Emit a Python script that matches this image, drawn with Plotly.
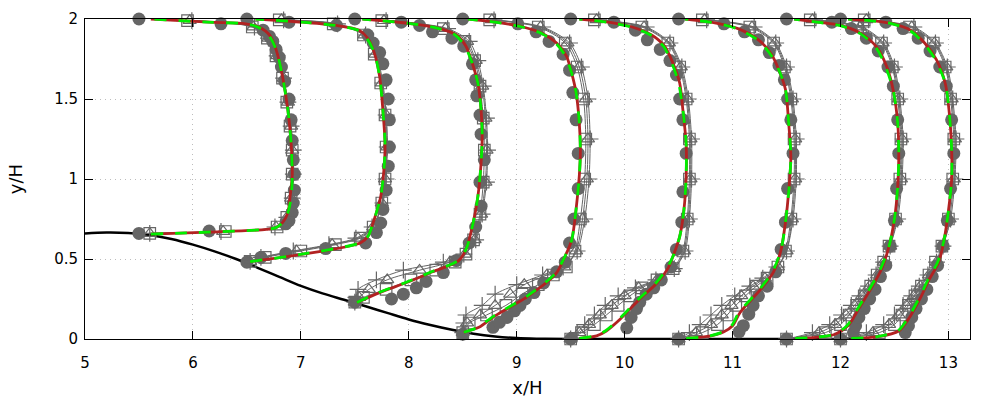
import plotly.graph_objects as go

# ---------------- data ----------------
STATIONS = [5.5, 6.5, 7.5, 8.5, 9.5, 10.5, 11.5, 12.0]

HILL_X = [5.0, 5.2, 5.4, 5.6, 5.8, 6.0, 6.2, 6.4, 6.6, 6.8, 7.0, 7.2, 7.4, 7.6, 7.8,
          8.0, 8.2, 8.4, 8.6, 8.8, 9.0, 9.2, 9.5, 12.2]
HILL_Y = [0.660, 0.666, 0.663, 0.650, 0.625, 0.590, 0.548, 0.500, 0.445, 0.388, 0.332,
          0.285, 0.245, 0.205, 0.163, 0.122, 0.088, 0.058, 0.033, 0.016, 0.006, 0.002,
          0.0, 0.0]

# LES-type profiles (red solid / green dashed), shared y grid per station
Y_LES_1 = [0.655, 0.668, 0.685, 0.696, 0.727, 0.79, 0.89, 1.02, 1.22, 1.43, 1.64, 1.81, 1.90, 1.95, 1.97, 1.98, 2.0]
U_RED_1 = [0.11, 0.65, 1.18, 1.27, 1.33, 1.38, 1.40, 1.42, 1.41, 1.38, 1.33, 1.27, 1.21, 1.11, 0.99, 0.65, 0.11]
U_GRN_1 = [0.11, 0.64, 1.17, 1.27, 1.33, 1.38, 1.41, 1.42, 1.41, 1.38, 1.33, 1.27, 1.20, 1.10, 0.98, 0.64, 0.11]

Y_LES_2 = [0.484, 0.53, 0.60, 0.64, 0.727, 0.89, 1.06, 1.22, 1.43, 1.64, 1.79, 1.88, 1.93, 1.96, 1.98, 2.0]
U_RED_2 = [0.03, 0.52, 1.05, 1.12, 1.17, 1.24, 1.27, 1.28, 1.26, 1.23, 1.18, 1.12, 1.04, 0.83, 0.52, 0.08]
U_GRN_2 = [0.03, 0.51, 1.04, 1.12, 1.17, 1.24, 1.27, 1.28, 1.26, 1.23, 1.18, 1.11, 1.03, 0.82, 0.51, 0.08]

Y_LES_3 = [0.228, 0.29, 0.353, 0.42, 0.488, 0.56, 0.706, 0.89, 1.10, 1.27, 1.43, 1.60, 1.72, 1.83, 1.90, 1.94, 1.97, 2.0]
U_RED_3 = [0.02, 0.23, 0.48, 0.72, 0.96, 1.03, 1.09, 1.14, 1.17, 1.18, 1.17, 1.14, 1.09, 1.03, 0.94, 0.79, 0.54, 0.07]
U_GRN_3 = [0.02, 0.22, 0.47, 0.71, 0.95, 1.03, 1.09, 1.14, 1.17, 1.18, 1.17, 1.14, 1.09, 1.02, 0.93, 0.78, 0.53, 0.07]

Y_LES_4 = [0.042, 0.073, 0.145, 0.27, 0.405, 0.52, 0.62, 0.81, 1.02, 1.17, 1.35, 1.54, 1.66, 1.77, 1.85, 1.91, 1.95, 1.98, 2.0]
U_RED_4 = [0.01, 0.15, 0.30, 0.61, 0.86, 0.95, 1.01, 1.05, 1.08, 1.09, 1.08, 1.05, 1.01, 0.96, 0.87, 0.74, 0.56, 0.31, 0.05]
U_GRN_4 = [0.01, 0.14, 0.29, 0.60, 0.85, 0.95, 1.01, 1.05, 1.08, 1.09, 1.08, 1.05, 1.01, 0.95, 0.86, 0.73, 0.55, 0.30, 0.05]

Y_LES_5 = [0.004, 0.02, 0.05, 0.125, 0.25, 0.35, 0.44, 0.52, 0.64, 0.81, 1.02, 1.22, 1.43, 1.60, 1.72, 1.83, 1.90, 1.95, 1.98, 2.0]
U_RED_5 = [0.08, 0.24, 0.33, 0.46, 0.64, 0.80, 0.90, 0.95, 1.01, 1.05, 1.07, 1.07, 1.04, 1.01, 0.95, 0.87, 0.75, 0.57, 0.35, 0.08]
U_GRN_5 = [0.08, 0.23, 0.32, 0.45, 0.63, 0.79, 0.89, 0.95, 1.01, 1.05, 1.07, 1.07, 1.04, 1.00, 0.94, 0.86, 0.74, 0.56, 0.34, 0.08]

Y_LES_6 = [0.004, 0.02, 0.045, 0.083, 0.166, 0.31, 0.42, 0.56, 0.73, 0.92, 1.14, 1.35, 1.56, 1.68, 1.78, 1.87, 1.94, 1.98, 2.0]
U_RED_6 = [0.07, 0.30, 0.42, 0.50, 0.57, 0.76, 0.88, 0.95, 0.99, 1.02, 1.04, 1.02, 0.99, 0.93, 0.86, 0.74, 0.55, 0.30, 0.06]
U_GRN_6 = [0.07, 0.29, 0.41, 0.49, 0.56, 0.75, 0.87, 0.95, 0.99, 1.02, 1.04, 1.02, 0.99, 0.93, 0.85, 0.73, 0.54, 0.29, 0.06]

Y_LES_7 = [0.004, 0.012, 0.03, 0.083, 0.19, 0.29, 0.436, 0.58, 0.75, 0.95, 1.14, 1.35, 1.55, 1.70, 1.82, 1.91, 1.96, 1.98, 2.0]
U_RED_7 = [0.08, 0.30, 0.45, 0.57, 0.67, 0.76, 0.88, 0.95, 1.00, 1.03, 1.04, 1.03, 0.99, 0.93, 0.84, 0.69, 0.50, 0.29, 0.07]
U_GRN_7 = [0.08, 0.29, 0.44, 0.56, 0.66, 0.75, 0.87, 0.95, 1.00, 1.03, 1.04, 1.03, 0.99, 0.92, 0.83, 0.68, 0.49, 0.28, 0.07]

Y_LES_8 = [0.004, 0.015, 0.05, 0.125, 0.27, 0.37, 0.48, 0.62, 0.80, 1.00, 1.18, 1.40, 1.60, 1.745, 1.85, 1.93, 1.97, 1.99, 2.0]
U_RED_8 = [0.10, 0.35, 0.54, 0.63, 0.75, 0.82, 0.91, 0.96, 1.00, 1.03, 1.03, 1.01, 0.97, 0.89, 0.78, 0.65, 0.49, 0.28, 0.07]
U_GRN_8 = [0.10, 0.34, 0.53, 0.62, 0.74, 0.81, 0.90, 0.96, 1.00, 1.03, 1.03, 1.01, 0.97, 0.88, 0.77, 0.64, 0.48, 0.27, 0.07]

# RANS-type profiles (thin grey lines with open markers)
Y_RANS_1 = [0.66, 0.672, 0.70, 0.76, 0.88, 1.03, 1.18, 1.33, 1.48, 1.63, 1.77, 1.88, 1.95, 1.99]
U_SQ_1 = [0.10, 0.80, 1.28, 1.37, 1.41, 1.42, 1.42, 1.40, 1.37, 1.33, 1.27, 1.19, 1.05, 0.45]
U_TR_1 = [0.10, 0.78, 1.27, 1.37, 1.41, 1.43, 1.42, 1.41, 1.38, 1.34, 1.28, 1.20, 1.06, 0.47]
U_PL_1 = [0.10, 0.76, 1.26, 1.37, 1.42, 1.43, 1.43, 1.41, 1.38, 1.34, 1.28, 1.20, 1.07, 0.49]

Y_RANS_2 = [0.485, 0.51, 0.55, 0.59, 0.63, 0.70, 0.85, 1.0, 1.2, 1.4, 1.6, 1.78, 1.90, 1.97, 1.995]
U_SQ_2 = [0.03, 0.17, 0.50, 0.82, 1.05, 1.17, 1.25, 1.28, 1.29, 1.28, 1.24, 1.18, 1.08, 0.80, 0.30]
U_TR_2 = [0.03, 0.15, 0.46, 0.79, 1.03, 1.17, 1.25, 1.28, 1.30, 1.29, 1.25, 1.19, 1.09, 0.82, 0.32]
U_PL_2 = [0.03, 0.13, 0.43, 0.76, 1.01, 1.16, 1.26, 1.29, 1.30, 1.29, 1.26, 1.20, 1.10, 0.84, 0.34]

Y_RANS_3 = [0.23, 0.26, 0.31, 0.37, 0.43, 0.48, 0.53, 0.62, 0.78, 0.98, 1.18, 1.38, 1.58, 1.74, 1.86, 1.94, 1.99]
U_SQ_3 = [0.0, 0.08, 0.29, 0.52, 0.75, 0.93, 1.03, 1.10, 1.16, 1.19, 1.20, 1.19, 1.16, 1.11, 1.02, 0.82, 0.25]
U_TR_3 = [0.0, 0.04, 0.13, 0.30, 0.60, 0.88, 1.02, 1.11, 1.17, 1.21, 1.22, 1.21, 1.18, 1.12, 1.04, 0.84, 0.27]
U_PL_3 = [0.0, 0.01, 0.03, 0.20, 0.45, 0.82, 1.01, 1.12, 1.18, 1.22, 1.23, 1.22, 1.19, 1.14, 1.06, 0.86, 0.29]

Y_RANS_4 = [0.04, 0.10, 0.15, 0.21, 0.28, 0.34, 0.40, 0.45, 0.55, 0.75, 1.0, 1.25, 1.5, 1.7, 1.85, 1.95, 1.995]
U_SQ_4 = [0.0, 0.06, 0.22, 0.40, 0.55, 0.70, 0.84, 0.96, 1.04, 1.09, 1.13, 1.14, 1.12, 1.06, 0.95, 0.70, 0.25]
U_TR_4 = [0.0, 0.04, 0.16, 0.30, 0.44, 0.57, 0.78, 0.94, 1.05, 1.11, 1.15, 1.16, 1.14, 1.08, 0.97, 0.72, 0.27]
U_PL_4 = [0.0, 0.01, 0.03, 0.18, 0.30, 0.50, 0.74, 0.93, 1.06, 1.13, 1.17, 1.18, 1.16, 1.10, 0.99, 0.74, 0.29]

Y_RANS_5 = [0.0, 0.04, 0.09, 0.15, 0.21, 0.27, 0.32, 0.37, 0.44, 0.55, 0.75, 1.0, 1.25, 1.5, 1.7, 1.85, 1.95, 1.995]
U_SQ_5 = [0.0, 0.10, 0.22, 0.33, 0.44, 0.55, 0.66, 0.80, 0.95, 1.04, 1.08, 1.10, 1.10, 1.07, 1.01, 0.90, 0.66, 0.22]
U_TR_5 = [0.0, 0.08, 0.17, 0.27, 0.38, 0.50, 0.63, 0.80, 0.96, 1.05, 1.09, 1.11, 1.11, 1.08, 1.02, 0.91, 0.68, 0.24]
U_PL_5 = [0.0, 0.06, 0.13, 0.22, 0.32, 0.44, 0.60, 0.79, 0.96, 1.06, 1.10, 1.12, 1.12, 1.09, 1.03, 0.92, 0.70, 0.26]

Y_RANS_6 = [0.0, 0.04, 0.09, 0.15, 0.21, 0.27, 0.33, 0.38, 0.45, 0.55, 0.75, 1.0, 1.25, 1.5, 1.7, 1.85, 1.95, 1.995]
U_SQ_6 = [0.0, 0.22, 0.36, 0.45, 0.53, 0.62, 0.72, 0.82, 0.92, 0.99, 1.04, 1.07, 1.07, 1.04, 0.98, 0.88, 0.66, 0.22]
U_TR_6 = [0.0, 0.16, 0.30, 0.40, 0.49, 0.58, 0.69, 0.80, 0.92, 1.00, 1.05, 1.08, 1.08, 1.05, 0.99, 0.89, 0.68, 0.24]
U_PL_6 = [0.0, 0.10, 0.20, 0.30, 0.40, 0.52, 0.66, 0.78, 0.91, 1.00, 1.06, 1.09, 1.09, 1.06, 1.00, 0.90, 0.70, 0.26]

Y_RANS_7 = [0.0, 0.04, 0.09, 0.15, 0.21, 0.27, 0.33, 0.40, 0.48, 0.58, 0.75, 1.0, 1.25, 1.5, 1.7, 1.85, 1.95, 1.995]
U_SQ_7 = [0.0, 0.36, 0.50, 0.58, 0.65, 0.72, 0.78, 0.84, 0.90, 0.95, 1.01, 1.05, 1.06, 1.03, 0.98, 0.88, 0.66, 0.22]
U_TR_7 = [0.0, 0.30, 0.45, 0.55, 0.63, 0.70, 0.77, 0.84, 0.90, 0.96, 1.02, 1.06, 1.07, 1.04, 0.99, 0.89, 0.68, 0.24]
U_PL_7 = [0.0, 0.24, 0.40, 0.51, 0.60, 0.68, 0.76, 0.83, 0.90, 0.96, 1.03, 1.07, 1.08, 1.05, 1.00, 0.90, 0.70, 0.26]

Y_RANS_8 = [0.0, 0.04, 0.09, 0.15, 0.21, 0.27, 0.33, 0.40, 0.48, 0.58, 0.75, 1.0, 1.25, 1.5, 1.7, 1.85, 1.95, 1.995]
U_SQ_8 = [0.0, 0.36, 0.50, 0.57, 0.63, 0.69, 0.75, 0.82, 0.88, 0.94, 1.00, 1.04, 1.05, 1.02, 0.97, 0.86, 0.64, 0.22]
U_TR_8 = [0.0, 0.30, 0.45, 0.54, 0.61, 0.68, 0.74, 0.82, 0.89, 0.95, 1.01, 1.05, 1.06, 1.03, 0.98, 0.87, 0.66, 0.24]
U_PL_8 = [0.0, 0.24, 0.40, 0.50, 0.58, 0.66, 0.73, 0.81, 0.89, 0.95, 1.02, 1.06, 1.07, 1.04, 0.99, 0.88, 0.68, 0.26]

# reference data (filled grey circles)
Y_EXP_1 = [0.66, 0.675, 0.72, 0.74, 0.79, 0.85, 0.93, 1.03, 1.12, 1.24, 1.37, 1.50, 1.61, 1.70, 1.76, 1.81, 1.86, 1.89, 1.93, 1.97, 2.0]
U_EXP_1 = [0.0, 0.65, 1.36, 1.39, 1.42, 1.43, 1.44, 1.44, 1.43, 1.42, 1.41, 1.39, 1.35, 1.32, 1.30, 1.27, 1.24, 1.21, 1.15, 0.76, 0.0]

Y_EXP_2 = [0.48, 0.51, 0.535, 0.565, 0.60, 0.665, 0.725, 0.81, 0.93, 1.08, 1.20, 1.37, 1.50, 1.62, 1.72, 1.79, 1.85, 1.90, 1.96, 1.98, 2.0]
U_EXP_2 = [0.0, 0.13, 0.36, 0.73, 1.10, 1.20, 1.24, 1.26, 1.29, 1.31, 1.32, 1.32, 1.31, 1.29, 1.26, 1.23, 1.17, 1.12, 0.83, 0.39, 0.0]

Y_EXP_3 = [0.23, 0.25, 0.28, 0.32, 0.36, 0.415, 0.49, 0.60, 0.70, 0.83, 0.98, 1.12, 1.28, 1.40, 1.52, 1.62, 1.72, 1.83, 1.88, 1.92, 1.96, 1.98, 2.0]
U_EXP_3 = [0.0, 0.34, 0.45, 0.57, 0.66, 0.82, 0.94, 1.06, 1.12, 1.17, 1.16, 1.20, 1.17, 1.16, 1.13, 1.12, 1.09, 1.01, 0.90, 0.72, 0.60, 0.43, 0.0]

Y_EXP_4 = [0.03, 0.073, 0.104, 0.135, 0.176, 0.21, 0.25, 0.29, 0.35, 0.42, 0.48, 0.60, 0.75, 0.94, 1.16, 1.37, 1.54, 1.68, 1.78, 1.86, 1.92, 1.97, 2.0]
U_EXP_4 = [0.0, 0.28, 0.34, 0.41, 0.48, 0.53, 0.58, 0.66, 0.75, 0.87, 0.95, 0.99, 1.03, 1.07, 1.07, 1.05, 1.02, 0.99, 0.93, 0.80, 0.68, 0.51, 0.0]

Y_EXP_5 = [0.0, 0.07, 0.135, 0.19, 0.23, 0.28, 0.32, 0.37, 0.45, 0.56, 0.73, 0.92, 1.16, 1.37, 1.50, 1.65, 1.74, 1.81, 1.87, 1.93, 1.98, 2.0]
U_EXP_5 = [0.0, 0.52, 0.56, 0.61, 0.64, 0.70, 0.77, 0.84, 0.93, 0.98, 1.03, 1.04, 1.07, 1.04, 1.01, 0.98, 0.92, 0.83, 0.71, 0.60, 0.40, 0.0]

Y_EXP_6 = [0.0, 0.045, 0.083, 0.155, 0.21, 0.27, 0.33, 0.42, 0.56, 0.73, 0.94, 1.16, 1.37, 1.50, 1.62, 1.71, 1.79, 1.87, 1.92, 1.97, 2.0]
U_EXP_6 = [0.0, 0.56, 0.60, 0.65, 0.69, 0.74, 0.82, 0.90, 0.95, 0.99, 1.01, 1.06, 1.04, 1.01, 0.98, 0.93, 0.84, 0.74, 0.61, 0.42, 0.0]

Y_EXP_7 = [0.0, 0.04, 0.083, 0.135, 0.19, 0.25, 0.31, 0.39, 0.46, 0.58, 0.74, 0.94, 1.16, 1.37, 1.58, 1.70, 1.80, 1.88, 1.94, 1.98, 2.0]
U_EXP_7 = [0.0, 0.62, 0.64, 0.67, 0.72, 0.77, 0.82, 0.87, 0.92, 0.96, 1.00, 1.02, 1.04, 1.03, 0.99, 0.94, 0.85, 0.74, 0.60, 0.42, 0.0]

Y_EXP_8 = [0.0, 0.04, 0.083, 0.135, 0.19, 0.25, 0.31, 0.39, 0.46, 0.58, 0.74, 0.94, 1.16, 1.37, 1.58, 1.70, 1.80, 1.88, 1.94, 1.98, 2.0]
U_EXP_8 = [0.0, 0.60, 0.63, 0.66, 0.70, 0.75, 0.80, 0.85, 0.90, 0.95, 0.99, 1.02, 1.05, 1.03, 0.98, 0.92, 0.83, 0.72, 0.58, 0.42, 0.0]

X_TICKS = [5, 6, 7, 8, 9, 10, 11, 12, 13]
Y_TICKS = [0, 0.5, 1, 1.5, 2]
Y_TICK_TEXT = ["0", "0.5", "1", "1.5", "2"]

# ---------------- figure ----------------
LES_Y = [Y_LES_1, Y_LES_2, Y_LES_3, Y_LES_4, Y_LES_5, Y_LES_6, Y_LES_7, Y_LES_8]
RED_U = [U_RED_1, U_RED_2, U_RED_3, U_RED_4, U_RED_5, U_RED_6, U_RED_7, U_RED_8]
GRN_U = [U_GRN_1, U_GRN_2, U_GRN_3, U_GRN_4, U_GRN_5, U_GRN_6, U_GRN_7, U_GRN_8]
RANS_Y = [Y_RANS_1, Y_RANS_2, Y_RANS_3, Y_RANS_4, Y_RANS_5, Y_RANS_6, Y_RANS_7, Y_RANS_8]
SQ_U = [U_SQ_1, U_SQ_2, U_SQ_3, U_SQ_4, U_SQ_5, U_SQ_6, U_SQ_7, U_SQ_8]
TR_U = [U_TR_1, U_TR_2, U_TR_3, U_TR_4, U_TR_5, U_TR_6, U_TR_7, U_TR_8]
PL_U = [U_PL_1, U_PL_2, U_PL_3, U_PL_4, U_PL_5, U_PL_6, U_PL_7, U_PL_8]
EXP_Y = [Y_EXP_1, Y_EXP_2, Y_EXP_3, Y_EXP_4, Y_EXP_5, Y_EXP_6, Y_EXP_7, Y_EXP_8]
EXP_U = [U_EXP_1, U_EXP_2, U_EXP_3, U_EXP_4, U_EXP_5, U_EXP_6, U_EXP_7, U_EXP_8]

GREY = "#666666"
fig = go.Figure()

fig.add_trace(go.Scatter(x=HILL_X, y=HILL_Y, mode="lines", line=dict(color="black", width=2.5, shape="spline"),
                         cliponaxis=False, showlegend=False, hoverinfo="skip"))

for s, ys, us in zip(STATIONS, EXP_Y, EXP_U):
    fig.add_trace(go.Scatter(x=[s + u for u in us], y=ys, mode="markers",
                             marker=dict(symbol="circle", size=13, color=GREY),
                             cliponaxis=False, showlegend=False))

for sym, sz, UU in [("square-open", 11.5, SQ_U), ("triangle-up-open", 11.5, TR_U), ("cross-thin-open", 12, PL_U)]:
    for s, ys, us in zip(STATIONS, RANS_Y, UU):
        fig.add_trace(go.Scatter(x=[s + u for u in us], y=ys, mode="lines+markers",
                                 line=dict(color=GREY, width=1, shape="spline", smoothing=0.8),
                                 marker=dict(symbol=sym, size=sz, color=GREY, line=dict(color=GREY, width=1.2)),
                                 cliponaxis=False, showlegend=False))

for s, ys, us in zip(STATIONS, LES_Y, RED_U):
    fig.add_trace(go.Scatter(x=[s + u for u in us], y=ys, mode="lines",
                             line=dict(color="#B22222", width=2.8, shape="spline", smoothing=0.8),
                             cliponaxis=False, showlegend=False))
for s, ys, us in zip(STATIONS, LES_Y, GRN_U):
    fig.add_trace(go.Scatter(x=[s + u for u in us], y=ys, mode="lines",
                             line=dict(color="#00EE00", width=2.8, shape="spline", smoothing=0.8, dash="12px,12px"),
                             cliponaxis=False, showlegend=False))

axis_common = dict(showline=True, linecolor="black", linewidth=1, mirror="ticks", ticks="inside",
                   ticklen=8, tickcolor="black", tickwidth=1, showgrid=True, gridcolor="#bdbdbd",
                   griddash="1px,4px", gridwidth=1, zeroline=False, automargin=False,
                   tickfont=dict(family="DejaVu Sans", size=15, color="black"))

fig.update_layout(
    width=1000, height=400,
    margin=dict(l=84.5, r=29.5, t=19.3, b=60.5),
    paper_bgcolor="white", plot_bgcolor="white",
    font=dict(family="DejaVu Sans", size=15, color="black"),
    xaxis=dict(range=[5, 13.2], tickvals=X_TICKS, ticklabelstandoff=10,
               title=dict(text="x/H", standoff=10), **axis_common),
    yaxis=dict(range=[0, 2], tickvals=Y_TICKS, ticktext=Y_TICK_TEXT, ticklabelstandoff=3,
               title=dict(text="y/H", standoff=26), **axis_common),
)

fig.write_html("out.html", config={"displayModeBar": False},
               post_script="document.body.style.margin='0px';")
